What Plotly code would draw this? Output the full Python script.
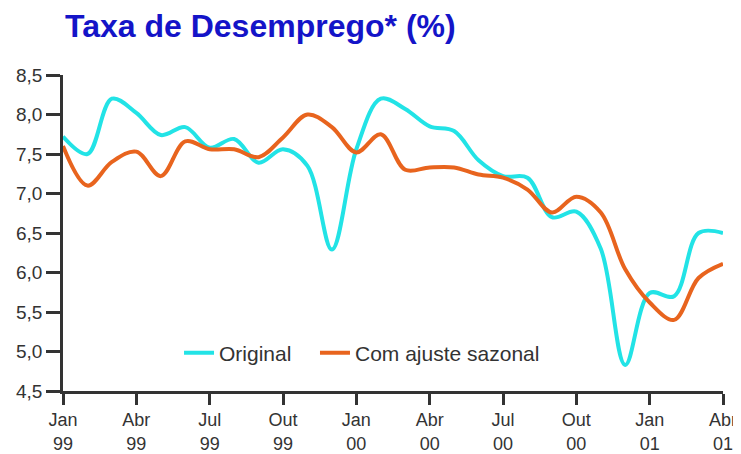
import plotly.graph_objects as go

months = ["Jan 99", "Fev 99", "Mar 99", "Abr 99", "Mai 99", "Jun 99", "Jul 99", "Ago 99",
          "Set 99", "Out 99", "Nov 99", "Dez 99", "Jan 00", "Fev 00", "Mar 00", "Abr 00",
          "Mai 00", "Jun 00", "Jul 00", "Ago 00", "Set 00", "Out 00", "Nov 00", "Dez 00",
          "Jan 01", "Fev 01", "Mar 01", "Abr 01"]

original = [7.72, 7.50, 8.20, 8.02, 7.74, 7.84, 7.58, 7.69, 7.39, 7.56, 7.35, 6.29,
            7.56, 8.20, 8.07, 7.85, 7.79, 7.42, 7.22, 7.20, 6.70, 6.77, 6.30, 4.83,
            5.74, 5.70, 6.50, 6.50]

ajustada = [7.60, 7.10, 7.40, 7.53, 7.22, 7.66, 7.56, 7.56, 7.46, 7.71, 8.00, 7.84,
            7.52, 7.75, 7.30, 7.33, 7.33, 7.24, 7.20, 7.05, 6.76, 6.96, 6.76, 6.04,
            5.62, 5.40, 5.93, 6.11]

tick_months = ["Jan 99", "Abr 99", "Jul 99", "Out 99", "Jan 00", "Abr 00", "Jul 00",
               "Out 00", "Jan 01", "Abr 01"]
tick_text = ["Jan<br>99", "Abr<br>99", "Jul<br>99", "Out<br>99", "Jan<br>00", "Abr<br>00",
             "Jul<br>00", "Out<br>00", "Jan<br>01", "Abr<br>01"]

y_ticks = [4.5, 5.0, 5.5, 6.0, 6.5, 7.0, 7.5, 8.0, 8.5]
y_text = ["4,5", "5,0", "5,5", "6,0", "6,5", "7,0", "7,5", "8,0", "8,5"]

FONT = "Liberation Sans, Arial, Helvetica, sans-serif"

fig = go.Figure()
fig.add_trace(go.Scatter(x=months, y=original, name="Original", mode="lines",
                         legend="legend",
                         line=dict(color="#22e3e6", width=4, shape="spline", smoothing=1.0)))
fig.add_trace(go.Scatter(x=months, y=ajustada, name="Com ajuste sazonal", mode="lines",
                         legend="legend2",
                         line=dict(color="#e8641e", width=4, shape="spline", smoothing=1.0)))

legend_style = dict(orientation="h", xanchor="left", y=0.12, yanchor="middle",
                    bgcolor="rgba(0,0,0,0)", font=dict(size=21, color="#333333", family=FONT),
                    itemwidth=30)

fig.update_layout(
    width=741, height=454,
    margin=dict(l=55, r=26, t=67, b=71, autoexpand=False),
    paper_bgcolor="white", plot_bgcolor="white",
    font=dict(family=FONT, size=19, color="#333333"),
    title=dict(text="<b>Taxa de Desemprego* (%)</b>", x=57 / 741, xanchor="left",
               y=0.9604, yanchor="middle",
               font=dict(size=32, color="#1414c8", family=FONT)),
    showlegend=True,
    legend=dict(x=0.1758, **legend_style),
    legend2=dict(x=0.3818, **legend_style),
)
fig.update_xaxes(type="category", range=[0, 27], tickmode="array",
                 tickvals=tick_months, ticktext=tick_text, automargin=False,
                 tickfont=dict(size=18),
                 showline=True, linecolor="#333333", linewidth=2.5,
                 ticks="outside", ticklen=11, tickwidth=2.5, tickcolor="#333333",
                 showgrid=False, zeroline=False)
fig.update_yaxes(range=[4.5, 8.5], tickmode="array", tickvals=y_ticks, ticktext=y_text,
                 automargin=False, tickfont=dict(size=19),
                 showline=True, linecolor="#333333", linewidth=2.5,
                 ticks="outside", ticklen=14, tickwidth=2.5, tickcolor="#333333",
                 showgrid=False, zeroline=False)

fig.write_html("out.html")
